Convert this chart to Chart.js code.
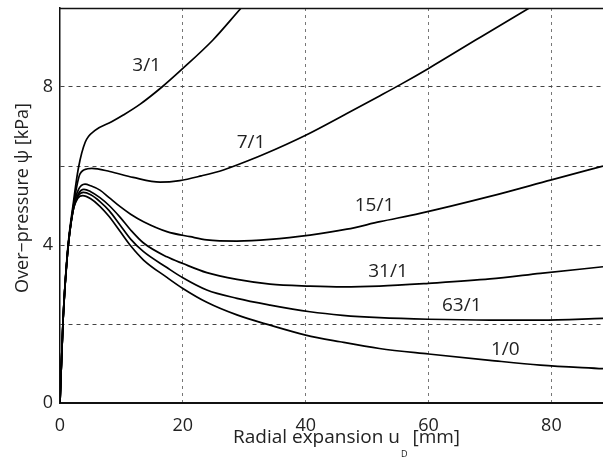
<!DOCTYPE html>
<html>
<head>
<meta charset="utf-8">
<script src="https://cdn.jsdelivr.net/npm/chart.js@4.4.1/dist/chart.umd.min.js"></script>
<style>
  html, body { margin: 0; padding: 0; background: #fff; }
  #wrap { width: 603px; height: 464px; position: relative; }
</style>
</head>
<body>
<div id="wrap"><canvas id="c"></canvas></div>
<script>
// ---- data ----
const seriesNames = ['3/1', '7/1', '15/1', '31/1', '63/1', '1/0'];

const x_3_1 = [0, 0.5, 1.2, 2.2, 3.0, 4.1, 5.7, 8.4, 10.3, 13.0, 16.6, 20.0, 24.9, 29.5, 30.5];
const y_3_1 = [0, 2.1, 3.8, 5.1, 5.95, 6.6, 6.9, 7.12, 7.29, 7.56, 8.0, 8.47, 9.19, 10.0, 10.17];

const x_7_1 = [0, 0.5, 1.2, 2.1, 3.26, 4.5, 5.2, 8.1, 11.9, 16.3, 19.5, 23.0, 26.6, 30.9, 33.1, 40.0, 46.7, 52.1, 55.4, 60.0, 68.0, 76.4, 77.5];
const y_7_1 = [0, 2.1, 3.75, 4.9, 5.8, 5.93, 5.94, 5.86, 5.71, 5.59, 5.63, 5.75, 5.9, 6.15, 6.29, 6.78, 7.33, 7.78, 8.06, 8.47, 9.22, 10.0, 10.1];

const x_15_1 = [0, 0.5, 1.2, 2.1, 3.0, 4.07, 5.0, 6.5, 8.0, 9.8, 11.5, 13.6, 17.4, 21.2, 23.9, 28.8, 34.2, 40.7, 46.7, 52.1, 58.6, 70.0, 80.0, 88.4];
const y_15_1 = [0, 2.1, 3.75, 4.9, 5.4, 5.54, 5.5, 5.39, 5.2, 4.97, 4.78, 4.59, 4.34, 4.21, 4.13, 4.1, 4.14, 4.25, 4.4, 4.59, 4.8, 5.23, 5.65, 6.0];

const x_31_1 = [0, 0.5, 1.2, 2.1, 3.0, 3.9, 5.0, 6.5, 8.0, 9.8, 11.5, 13.6, 17.4, 20.0, 23.9, 28.8, 34.2, 40.7, 46.0, 52.0, 60.0, 70.0, 78.2, 88.4];
const y_31_1 = [0, 2.1, 3.75, 4.85, 5.3, 5.41, 5.35, 5.2, 5.0, 4.7, 4.38, 4.05, 3.7, 3.53, 3.3, 3.13, 3.01, 2.96, 2.94, 2.96, 3.03, 3.14, 3.28, 3.45];

const x_63_1 = [0, 0.5, 1.2, 2.1, 3.0, 3.8, 5.0, 6.5, 8.0, 9.8, 11.5, 13.6, 17.4, 20.0, 23.9, 28.8, 34.2, 40.7, 46.0, 52.0, 60.0, 70.0, 78.2, 88.4];
const y_63_1 = [0, 2.1, 3.75, 4.85, 5.25, 5.33, 5.27, 5.1, 4.87, 4.5, 4.15, 3.83, 3.43, 3.17, 2.86, 2.65, 2.48, 2.31, 2.22, 2.16, 2.12, 2.1, 2.1, 2.14];

const x_1_0 = [0, 0.5, 1.2, 2.1, 2.9, 3.7, 5.0, 6.5, 8.0, 9.8, 11.5, 13.6, 17.4, 20.0, 23.9, 28.8, 34.2, 40.0, 45.6, 52.0, 60.0, 70.0, 78.2, 88.4];
const y_1_0 = [0, 2.1, 3.75, 4.85, 5.18, 5.25, 5.17, 4.98, 4.72, 4.34, 3.98, 3.62, 3.18, 2.9, 2.55, 2.23, 1.97, 1.72, 1.55, 1.38, 1.24, 1.08, 0.96, 0.87];

const seriesX = [x_3_1, x_7_1, x_15_1, x_31_1, x_63_1, x_1_0];
const seriesY = [y_3_1, y_7_1, y_15_1, y_31_1, y_63_1, y_1_0];

// curve-label anchor points (data coordinates)
const labelAtX = [14.1, 31.1, 51.2, 53.4, 65.4, 72.5];
const labelAtY = [8.53, 6.59, 4.99, 3.32, 2.46, 1.34];

const xTicks = [0, 20, 40, 60, 80];
const yTicks = [0, 2, 4, 6, 8];
const yTickLabels = ['0', '', '4', '', '8'];
const xTitle = ['Radial expansion u', 'D', ' [mm]'];
const yTitle = 'Over\u2212pressure \u03C8 [kPa]';

// ---- chart ----
const FONT = "'Open Sans', 'Noto Sans', sans-serif";
const TXT = '#222';

const datasets = seriesNames.map((name, i) => ({
  label: name,
  data: seriesX[i].map((x, k) => ({ x: x, y: seriesY[i][k] })),
  borderColor: '#000',
  borderWidth: 1.7,
  pointRadius: 0,
  fill: false,
  cubicInterpolationMode: 'monotone'
}));

const decor = {
  id: 'decor',
  afterDraw(chart) {
    const ctx = chart.ctx;
    const a = chart.chartArea;
    const xs = chart.scales.x, ys = chart.scales.y;
    ctx.save();
    // top frame line
    ctx.strokeStyle = '#111';
    ctx.lineWidth = 1.3;
    ctx.beginPath();
    ctx.moveTo(a.left, a.top + 0.5);
    ctx.lineTo(a.right, a.top + 0.5);
    ctx.stroke();
    // curve labels
    ctx.fillStyle = TXT;
    ctx.font = '19px ' + FONT;
    ctx.textAlign = 'center';
    ctx.textBaseline = 'middle';
    seriesNames.forEach((n, i) => {
      ctx.fillText(n, xs.getPixelForValue(labelAtX[i]), ys.getPixelForValue(labelAtY[i]));
    });
    // x title with subscript
    ctx.textBaseline = 'alphabetic';
    ctx.textAlign = 'left';
    const fMain = '19px ' + FONT, fSub = '9px ' + FONT;
    ctx.font = fMain; const w1 = ctx.measureText(xTitle[0]).width;
    ctx.font = fSub; const w2 = ctx.measureText(xTitle[1]).width;
    ctx.font = fMain; const w3 = ctx.measureText(xTitle[2]).width;
    const cx = 346, base = 443;
    let x0 = cx - (w1 + w2 + w3) / 2;
    ctx.font = fMain; ctx.fillText(xTitle[0], x0, base);
    ctx.font = fSub; ctx.fillText(xTitle[1], x0 + w1 + 1, base + 14);
    ctx.font = fMain; ctx.fillText(xTitle[2], x0 + w1 + w2 + 1, base);
    // y title
    ctx.translate(22.5, 198);
    ctx.rotate(-Math.PI / 2);
    ctx.textAlign = 'center';
    ctx.textBaseline = 'middle';
    ctx.font = '18px ' + FONT;
    ctx.fillText(yTitle, 0, 0);
    ctx.restore();
  }
};

new Chart(document.getElementById('c'), {
  type: 'line',
  data: { datasets },
  options: {
    responsive: true,
    maintainAspectRatio: false,
    animation: false,
    events: [],
    layout: { padding: { top: 8, right: 0, bottom: 0, left: 0 } },
    plugins: { legend: { display: false }, tooltip: { enabled: false } },
    scales: {
      x: {
        type: 'linear',
        min: 0,
        max: 88.4,
        afterBuildTicks: s => { s.ticks = xTicks.map(v => ({ value: v })); },
        afterFit: s => { s.height = 61; },
        ticks: {
          includeBounds: false,
          color: TXT,
          font: { family: FONT, size: 18 },
          padding: 12,
          maxRotation: 0,
          callback: v => String(v)
        },
        grid: {
          drawTicks: false,
          lineWidth: 1,
          color: c => (c.tick && c.tick.value === 0) ? 'rgba(0,0,0,0)' : '#777'
        },
        border: { display: true, color: '#111', width: 2, dash: [3, 4] }
      },
      y: {
        type: 'linear',
        min: 0,
        max: 10,
        afterBuildTicks: s => { s.ticks = yTicks.map(v => ({ value: v })); },
        afterFit: s => { s.width = 60; },
        ticks: {
          color: TXT,
          font: { family: FONT, size: 18, lineHeight: 0.1 },
          padding: 7,
          callback: (v, i) => yTickLabels[i]
        },
        grid: {
          drawTicks: false,
          lineWidth: 1,
          color: c => (c.tick && c.tick.value === 0) ? 'rgba(0,0,0,0)' : '#444'
        },
        border: { display: true, color: '#111', width: 1.5, dash: [4, 4] }
      }
    }
  },
  plugins: [decor]
});
</script>
</body>
</html>
